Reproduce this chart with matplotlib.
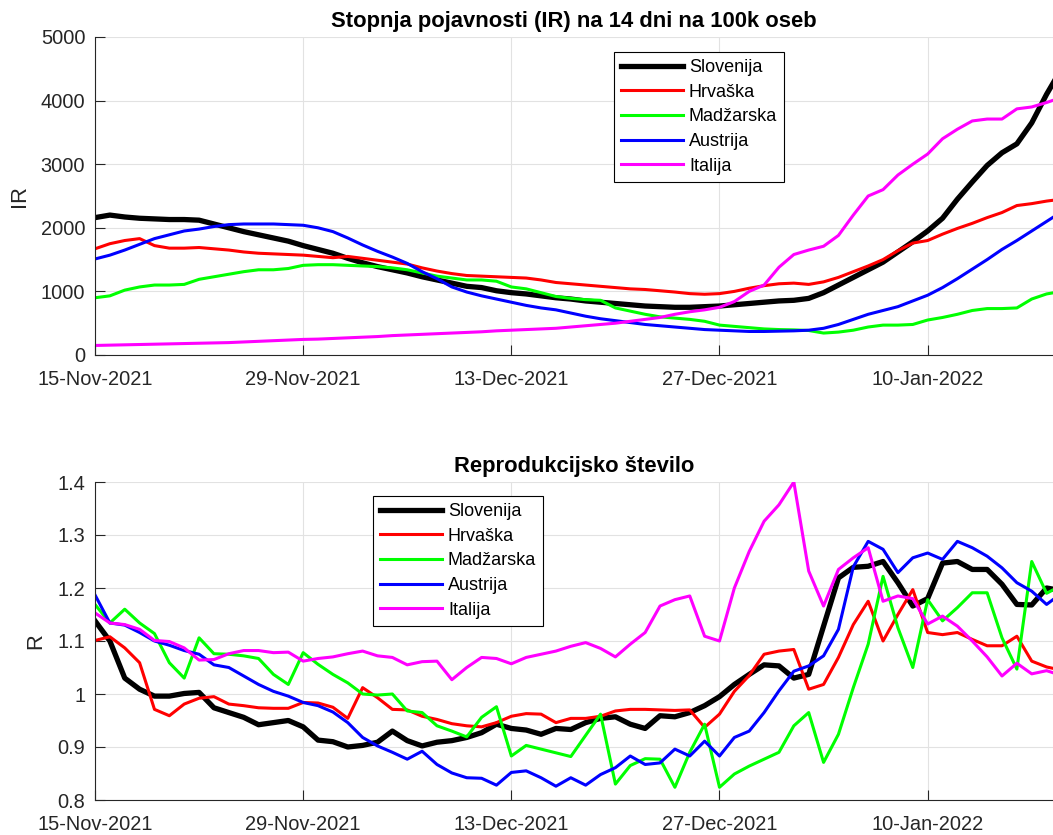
import numpy as np
import matplotlib
matplotlib.use('Agg')
import matplotlib.pyplot as plt
import matplotlib.dates as mdates

plt.rcParams['font.family'] = ['Liberation Sans', 'DejaVu Sans']

# ---------------- data ----------------
start_date = '2021-11-15'
n_days = 66
countries = ['Slovenija', 'Hrvaška', 'Madžarska', 'Austrija', 'Italija']
colors = ['#000000', '#ff0000', '#00ff00', '#0000ff', '#ff00ff']
tick_dates = ['2021-11-15', '2021-11-29', '2021-12-13', '2021-12-27', '2022-01-10']

ir_slovenija = [2160, 2200, 2170, 2150, 2140, 2130, 2130, 2120, 2060, 2000,
                1940, 1890, 1840, 1790, 1720, 1660, 1600, 1520, 1450, 1390,
                1340, 1290, 1230, 1180, 1130, 1080, 1060, 1010, 980, 960,
                930, 900, 880, 850, 830, 810, 790, 770, 760, 750,
                750, 760, 770, 790, 810, 830, 850, 860, 890, 980,
                1100, 1220, 1340, 1460, 1620, 1780, 1950, 2150, 2450, 2720,
                2980, 3180, 3320, 3650, 4100, 4500]
ir_hrvaska = [1670, 1750, 1800, 1830, 1720, 1680, 1680, 1690, 1670, 1650,
              1620, 1600, 1590, 1580, 1570, 1550, 1530, 1550, 1520, 1490,
              1460, 1430, 1370, 1320, 1280, 1250, 1240, 1230, 1220, 1210,
              1180, 1140, 1120, 1100, 1080, 1060, 1040, 1030, 1010, 990,
              965, 955, 965, 1000, 1050, 1090, 1120, 1130, 1110, 1150,
              1220, 1310, 1400, 1500, 1640, 1760, 1800, 1900, 1990, 2070,
              2160, 2240, 2350, 2380, 2420, 2450]
ir_madzarska = [900, 930, 1020, 1070, 1100, 1100, 1110, 1190, 1230, 1270,
                1310, 1340, 1340, 1360, 1410, 1420, 1420, 1410, 1400, 1390,
                1370, 1340, 1290, 1240, 1210, 1180, 1180, 1160, 1070, 1040,
                980, 920, 890, 870, 860, 740, 690, 640, 600, 580,
                560, 530, 470, 450, 430, 410, 400, 395, 385, 345,
                360, 390, 440, 470, 470, 480, 550, 590, 640, 700,
                730, 730, 740, 880, 960, 1000]
ir_austrija = [1510, 1570, 1650, 1740, 1830, 1890, 1950, 1980, 2020, 2050,
               2060, 2060, 2060, 2050, 2040, 2000, 1940, 1840, 1730, 1630,
               1540, 1440, 1310, 1200, 1070, 990, 930, 880, 830, 780,
               740, 710, 660, 610, 570, 540, 510, 480, 460, 440,
               420, 400, 390, 380, 370, 370, 375, 380, 390, 420,
               480, 560, 640, 700, 760, 850, 940, 1060, 1200, 1350,
               1500, 1660, 1800, 1950, 2100, 2250]
ir_italija = [150, 155, 160, 165, 170, 175, 180, 185, 190, 195,
              205, 215, 225, 235, 245, 250, 260, 270, 280, 290,
              305, 315, 325, 335, 345, 355, 365, 380, 390, 400,
              410, 420, 440, 460, 480, 500, 530, 560, 590, 640,
              680, 710, 750, 840, 1000, 1100, 1380, 1580, 1650, 1710,
              1880, 2200, 2500, 2600, 2830, 3000, 3160, 3400, 3550, 3680,
              3710, 3710, 3870, 3900, 3970, 4050]

r_slovenija = [1.138, 1.10, 1.03, 1.009, 0.996, 0.996, 1.001, 1.003, 0.974, 0.965,
               0.956, 0.942, 0.946, 0.95, 0.938, 0.913, 0.910, 0.90, 0.903, 0.909,
               0.93, 0.912, 0.902, 0.909, 0.912, 0.918, 0.927, 0.943, 0.935, 0.932,
               0.924, 0.935, 0.933, 0.946, 0.954, 0.957, 0.943, 0.935, 0.959, 0.957,
               0.965, 0.978, 0.995, 1.018, 1.037, 1.055, 1.053, 1.03, 1.037, 1.128,
               1.219, 1.239, 1.241, 1.25, 1.21, 1.166, 1.18, 1.247, 1.25, 1.235,
               1.235, 1.207, 1.169, 1.168, 1.20, 1.195]
r_hrvaska = [1.101, 1.108, 1.087, 1.059, 0.971, 0.959, 0.981, 0.992, 0.995, 0.981,
             0.978, 0.974, 0.973, 0.973, 0.984, 0.983, 0.975, 0.954, 1.012, 0.993,
             0.971, 0.970, 0.958, 0.952, 0.944, 0.94, 0.938, 0.946, 0.958, 0.963,
             0.962, 0.946, 0.954, 0.954, 0.958, 0.968, 0.971, 0.971, 0.970, 0.969,
             0.970, 0.937, 0.962, 1.005, 1.035, 1.075, 1.081, 1.084, 1.009, 1.018,
             1.069, 1.131, 1.175, 1.10, 1.15, 1.197, 1.116, 1.112, 1.116, 1.103,
             1.091, 1.091, 1.109, 1.062, 1.051, 1.045]
r_madzarska = [1.169, 1.134, 1.16, 1.134, 1.114, 1.059, 1.03, 1.106, 1.076, 1.075,
               1.072, 1.067, 1.037, 1.018, 1.078, 1.056, 1.037, 1.021, 1.0, 0.998,
               1.0, 0.968, 0.965, 0.94, 0.93, 0.919, 0.956, 0.976, 0.883, 0.903,
               0.896, 0.889, 0.882, 0.922, 0.962, 0.83, 0.865, 0.878, 0.877, 0.824,
               0.89, 0.943, 0.824, 0.849, 0.864, 0.877, 0.89, 0.94, 0.965, 0.871,
               0.924, 1.012, 1.094, 1.222, 1.125, 1.05, 1.178, 1.138, 1.163, 1.191,
               1.191, 1.106, 1.047, 1.25, 1.19, 1.205]
r_austrija = [1.187, 1.134, 1.13, 1.116, 1.10, 1.092, 1.082, 1.075, 1.055, 1.05,
              1.034, 1.018, 1.005, 0.996, 0.984, 0.978, 0.966, 0.946, 0.918, 0.902,
              0.89, 0.877, 0.892, 0.867, 0.851, 0.842, 0.841, 0.828, 0.852, 0.855,
              0.842, 0.826, 0.842, 0.828, 0.848, 0.861, 0.883, 0.867, 0.87, 0.896,
              0.883, 0.911, 0.883, 0.918, 0.93, 0.965, 1.006, 1.043, 1.053, 1.072,
              1.122, 1.24, 1.288, 1.273, 1.229, 1.257, 1.266, 1.254, 1.288, 1.276,
              1.26, 1.238, 1.21, 1.194, 1.169, 1.19]
r_italija = [1.153, 1.134, 1.131, 1.122, 1.101, 1.099, 1.087, 1.064, 1.065, 1.076,
             1.082, 1.082, 1.078, 1.079, 1.062, 1.067, 1.07, 1.076, 1.081, 1.072,
             1.069, 1.055, 1.061, 1.062, 1.027, 1.05, 1.069, 1.067, 1.057, 1.069,
             1.075, 1.081, 1.09, 1.097, 1.086, 1.07, 1.094, 1.116, 1.166, 1.178,
             1.185, 1.109, 1.10, 1.20, 1.269, 1.326, 1.357, 1.40, 1.232, 1.166,
             1.235, 1.257, 1.276, 1.175, 1.185, 1.18, 1.132, 1.147, 1.128, 1.10,
             1.07, 1.034, 1.058, 1.038, 1.044, 1.035]

ir_series = [ir_slovenija, ir_hrvaska, ir_madzarska, ir_austrija, ir_italija]
r_series = [r_slovenija, r_hrvaska, r_madzarska, r_austrija, r_italija]
line_widths = [3.8, 2.2, 2.2, 2.2, 2.2]

# ---------------- figure ----------------
W, H = 1053, 835
fig = plt.figure(figsize=(W / 100, H / 100), dpi=100)

dates = np.datetime64(start_date) + np.arange(n_days)
x0 = mdates.date2num(np.datetime64(start_date))
x_right = x0 + 64.43


def style_axes(ax, ylim, yticks, title, ylabel, legend_anchor):
    ax.set_xlim(x0, x_right)
    ax.set_ylim(*ylim)
    ax.set_yticks(yticks)
    ax.set_xticks([mdates.date2num(np.datetime64(d)) for d in tick_dates])
    ax.xaxis.set_major_formatter(mdates.DateFormatter('%d-%b-%Y'))
    ax.yaxis.set_major_formatter(matplotlib.ticker.FormatStrFormatter('%g'))
    ax.grid(True, color='#e2e2e2', linewidth=0.8)
    ax.set_axisbelow(True)
    for s in ['top', 'right']:
        ax.spines[s].set_visible(False)
    for s in ['left', 'bottom']:
        ax.spines[s].set_color('#262626')
        ax.spines[s].set_linewidth(0.8)
    ax.tick_params(direction='in', length=7, width=0.8, colors='#262626',
                   labelsize=14.4)
    ax.tick_params(axis='x', pad=10.5)
    ax.tick_params(axis='y', pad=7)
    ax.set_title(title, fontsize=15.8, fontweight='bold', pad=7)
    ax.set_ylabel(ylabel, fontsize=15.8, color='#262626', labelpad=8)
    leg = ax.legend(loc='upper left', bbox_to_anchor=legend_anchor,
                    borderaxespad=0, fontsize=13, frameon=True, fancybox=False,
                    framealpha=1, edgecolor='#000000', borderpad=0.4,
                    handlelength=3.4, handletextpad=0.35, labelspacing=0.42)
    leg.get_frame().set_linewidth(0.8)


ax1 = fig.add_axes([95 / W, 1 - 355 / H, (W - 95) / W, (355 - 37) / H])
for name, vals, c, lw in zip(countries, ir_series, colors, line_widths):
    ax1.plot(dates, vals, color=c, linewidth=lw, label=name,
             solid_joinstyle='round')
style_axes(ax1, (0, 5000), [0, 1000, 2000, 3000, 4000, 5000],
           'Stopnja pojavnosti (IR) na 14 dni na 100k oseb', 'IR',
           ((614 - 95) / (W - 95), (355 - 52) / (355 - 37)))

ax2 = fig.add_axes([95 / W, 1 - 800 / H, (W - 95) / W, (800 - 482) / H])
for name, vals, c, lw in zip(countries, r_series, colors, line_widths):
    ax2.plot(dates, vals, color=c, linewidth=lw, label=name,
             solid_joinstyle='round')
style_axes(ax2, (0.8, 1.4), [0.8, 0.9, 1.0, 1.1, 1.2, 1.3, 1.4],
           'Reprodukcijsko število', 'R',
           ((373 - 95) / (W - 95), (800 - 496) / (800 - 482)))

fig.savefig('out.png', dpi=100)
